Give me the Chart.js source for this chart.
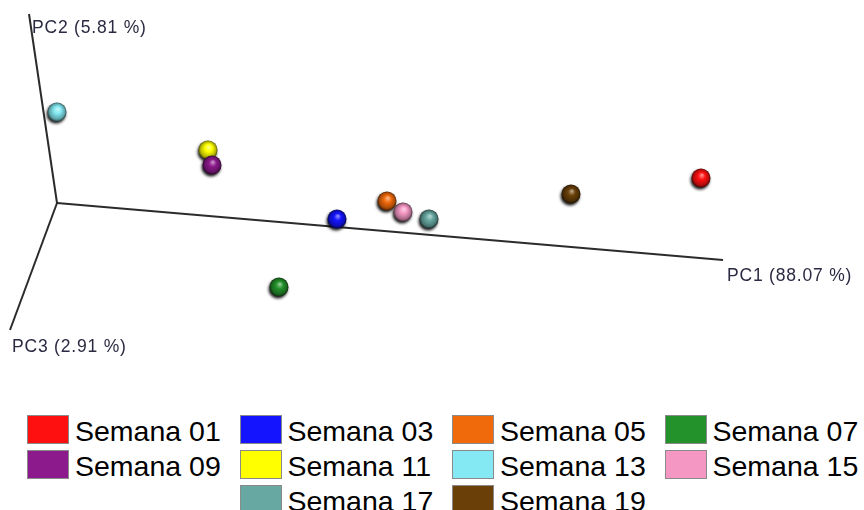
<!DOCTYPE html>
<html>
<head>
<meta charset="utf-8">
<script src="https://cdn.jsdelivr.net/npm/chart.js@4/dist/chart.umd.min.js"></script>
<style>
  html, body { margin: 0; padding: 0; background: #fff; }
  #wrap { position: relative; width: 864px; height: 510px; overflow: hidden; }
  #plot { position: absolute; left: 0; top: 0; }
  .lg-box { position: absolute; width: 40px; height: 27px; border: 1px solid #8a8a8a; box-sizing: content-box; }
  .lg-txt { position: absolute; font-family: "Liberation Sans", Arial, sans-serif; font-size: 28.5px; line-height: 28px; color: #000; white-space: nowrap; }
</style>
</head>
<body>
<div id="wrap">
  <canvas id="plot" width="864" height="405"></canvas>
  <div id="legend"></div>
</div>
<script>
// ---- data (projected PCoA coordinates) ----
const weeks = ["Semana 01","Semana 03","Semana 05","Semana 07","Semana 09","Semana 11","Semana 13","Semana 15","Semana 17","Semana 19"];
const projX = [6.44, 2.80, 3.30, 2.22, 1.55, 1.51, 0.00, 3.46, 3.72, 5.14];
const projY = [0.25, -0.16, 0.02, -0.84, 0.38, 0.53, 0.91, -0.09, -0.16, 0.09];
const weekColors = ["#ff1010","#1414ff","#f06a0c","#23922b","#8c1a8c","#ffff00","#84e9f2","#f497c3","#68a8a2","#6a4008"];
const axisNames = ["PC1 (88.07 %)","PC2 (5.81 %)","PC3 (2.91 %)"];
const axisEndX = [6.66, -0.28, -0.47];
const axisEndY = [-0.57, 1.89, -1.27];

// ---- HTML legend (4 columns, last row centred) ----
(function buildLegend() {
  const lg = document.getElementById("legend");
  const cols = 4, colW = 212.5, left0 = 27, top0 = 415, rowH = 35;
  const nRows = Math.ceil(weeks.length / cols);
  weeks.forEach((w, i) => {
    const row = Math.floor(i / cols);
    let col = i % cols;
    if (row === nRows - 1) {
      const nLast = weeks.length - row * cols;
      col += Math.floor((cols - nLast) / 2);
    }
    const x = left0 + col * colW, y = top0 + row * rowH;
    const b = document.createElement("div");
    b.className = "lg-box";
    b.style.left = x + "px"; b.style.top = y + "px"; b.style.background = weekColors[i];
    const t = document.createElement("div");
    t.className = "lg-txt";
    t.style.left = (x + 48) + "px"; t.style.top = (y + 2) + "px";
    t.textContent = w;
    lg.appendChild(b); lg.appendChild(t);
  });
})();

// ---- helpers ----
function shade(hex, f) {
  const n = parseInt(hex.slice(1), 16);
  let r = (n >> 16) & 255, g = (n >> 8) & 255, b = n & 255;
  if (f >= 0) { r += (255 - r) * f; g += (255 - g) * f; b += (255 - b) * f; }
  else { r *= (1 + f); g *= (1 + f); b *= (1 + f); }
  return "rgb(" + Math.round(r) + "," + Math.round(g) + "," + Math.round(b) + ")";
}
const R = 9.5;
function sphereFill(color) {
  return function (c) {
    if (c.type !== "data" || !c.parsed) return color;
    const ch = c.chart;
    const x = ch.scales.x.getPixelForValue(c.parsed.x), y = ch.scales.y.getPixelForValue(c.parsed.y);
    if (!isFinite(x) || !isFinite(y)) return color;
    const g = ch.ctx.createRadialGradient(x + 1, y - 3, 0.5, x, y, R);
    g.addColorStop(0, shade(color, 0.5));
    g.addColorStop(0.35, color);
    g.addColorStop(0.8, shade(color, -0.3));
    g.addColorStop(1, shade(color, -0.7));
    return g;
  };
}

const datasets = [];
axisNames.forEach((name, i) => {
  datasets.push({
    type: "line", label: name, isAxis: true,
    data: [{ x: 0, y: 0 }, { x: axisEndX[i], y: axisEndY[i] }],
    borderColor: "#2b2b2b", borderWidth: 2, pointRadius: 0, fill: false, order: 5, clip: false
  });
});
weeks.forEach((w, i) => {
  datasets.push({
    type: "scatter", label: w,
    data: [{ x: projX[i], y: projY[i] }],
    backgroundColor: sphereFill(weekColors[i]),
    borderWidth: 0, pointRadius: R, pointHoverRadius: R,
    order: w === "Semana 15" ? -1 : 0, clip: false
  });
});

const axisLabelOffset = [[4, 16], [3, 14], [2, 17]];
const axisLabelPlugin = {
  id: "axisLabels",
  afterDatasetsDraw(chart) {
    const ctx = chart.ctx, xs = chart.scales.x, ys = chart.scales.y;
    ctx.save();
    ctx.font = "17.5px 'Liberation Sans', Arial, sans-serif";
    if ("letterSpacing" in ctx) ctx.letterSpacing = "0.8px";
    ctx.fillStyle = "#2a2a42";
    ctx.textAlign = "left";
    ctx.textBaseline = "middle";
    axisNames.forEach((n, i) => {
      const px = xs.getPixelForValue(axisEndX[i]) + axisLabelOffset[i][0];
      const py = ys.getPixelForValue(axisEndY[i]) + axisLabelOffset[i][1];
      ctx.fillText(n, px, py);
    });
    ctx.restore();
  }
};
const shadowPlugin = {
  id: "sphereShadow",
  beforeDatasetDraw(chart, args) {
    const ds = chart.data.datasets[args.index];
    if (ds.isAxis) return;
    const ctx = chart.ctx;
    ctx.save();
    ctx.shadowColor = "rgba(0,0,0,0.9)";
    ctx.shadowBlur = 3;
    ctx.shadowOffsetX = -1;
    ctx.shadowOffsetY = 2;
  },
  afterDatasetDraw(chart, args) {
    const ds = chart.data.datasets[args.index];
    if (ds.isAxis) return;
    chart.ctx.restore();
  }
};

new Chart(document.getElementById("plot"), {
  type: "scatter",
  data: { datasets },
  options: {
    responsive: false,
    animation: false,
    layout: { padding: 0, autoPadding: false },
    plugins: { legend: { display: false }, tooltip: { enabled: false } },
    scales: {
      x: { type: "linear", display: false, min: -0.57, max: 8.07 },
      y: { type: "linear", display: false, min: -2.02, max: 2.03 }
    }
  },
  plugins: [shadowPlugin, axisLabelPlugin]
});
</script>
</body>
</html>
